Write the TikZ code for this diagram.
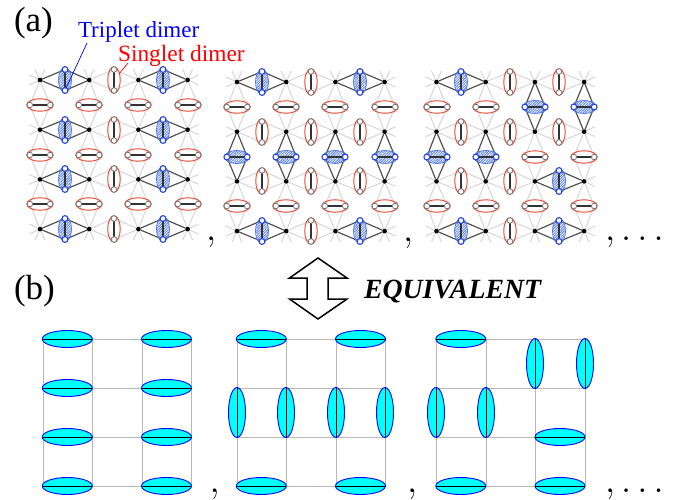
\documentclass[tikz,border=0pt]{standalone}
\usepackage{fix-cm}
\usepackage{fontspec}
\setmainfont{Liberation Serif}
\usetikzlibrary{shapes.geometric,patterns.meta}
\pgfdeclarelayer{greylayer}
\pgfdeclarelayer{linklayer}
\pgfdeclarelayer{elllayer}
\pgfsetlayers{greylayer,linklayer,elllayer,main}
\definecolor{latgrey}{gray}{0.84}
\definecolor{redell}{RGB}{232,82,60}
\definecolor{bluell}{RGB}{40,70,220}
\definecolor{hatchblue}{RGB}{80,120,240}
\definecolor{cyanfill}{RGB}{0,255,255}
\tikzset{
  dotnode/.style={circle,fill=black,inner sep=0pt,minimum size=4.6pt,outer sep=0pt},
  siteS/.style={circle,draw=black!55,fill=white,line width=.8pt,inner sep=0pt,minimum size=5.6pt,outer sep=0pt},
  siteT/.style={circle,draw=bluell,fill=white,line width=1.1pt,inner sep=0pt,minimum size=5.8pt,outer sep=0pt},
  latline/.style={draw=latgrey,line width=1pt},
  linkS/.style={latline},
  linkT/.style={draw=black!68,line width=1.2pt},
  bond/.style={draw=black!80,line width=1.6pt},
  ellbase/.style={ellipse,inner sep=0pt,outer sep=0pt},
  ellVS/.style={ellbase,draw=redell,line width=1pt,minimum width=12.5pt,minimum height=26.5pt},
  ellHS/.style={ellbase,draw=redell,line width=1pt,minimum width=26.5pt,minimum height=12.5pt},
  hatch/.style={pattern={Lines[angle=45,distance=1.8pt,line width=.8pt]},pattern color=hatchblue},
  ellVT/.style={ellbase,hatch,draw=hatchblue,line width=.8pt,minimum width=13pt,minimum height=25pt},
  ellHT/.style={ellbase,hatch,draw=hatchblue,line width=.8pt,minimum width=25pt,minimum height=13pt},
  bgrid/.style={draw=black!28,line width=1pt},
  bline/.style={draw=black,line width=1pt},
  bellH/.style={ellbase,draw=blue,fill=cyanfill,line width=.9pt,minimum width=50pt,minimum height=17pt},
  bellV/.style={ellbase,draw=blue,fill=cyanfill,line width=.9pt,minimum width=17pt,minimum height=50pt},
  label/.style={anchor=base west,inner sep=0pt,outer sep=0pt},
  biglabel/.style={label,font=\fontsize{35}{35}\selectfont},
  punct/.style={label,font=\fontsize{37}{37}\selectfont},
}
% name, x0, y0, vertical dimers i/j/type, horizontal dimers i/j/type
\newcommand{\panelA}[5]{%
  \foreach \i in {0,1,2,3} \foreach \j in {0,1,2,3} {
    \node[dotnode] (#1-d-\i-\j) at ({#2+49.2*\i},{#3+49.7*\j}) {};
  }
  \begin{pgfonlayer}{greylayer}
  \foreach \j in {0,1,2,3} {
    \draw[latline] (#1-d-0-\j.center) -- ++(-11,-5);
    \draw[latline] (#1-d-0-\j.center) -- ++(-11,5);
    \draw[latline] (#1-d-3-\j.center) -- ++(11,-5);
    \draw[latline] (#1-d-3-\j.center) -- ++(11,5);
  }
  \foreach \i in {0,1,2,3} {
    \draw[latline] (#1-d-\i-0.center) -- ++(-5,-11);
    \draw[latline] (#1-d-\i-0.center) -- ++(5,-11);
    \draw[latline] (#1-d-\i-3.center) -- ++(-5,11);
    \draw[latline] (#1-d-\i-3.center) -- ++(5,11);
  }
  \end{pgfonlayer}
  \foreach \i/\j/\k in {#4} {
    \pgfmathtruncatemacro{\ii}{\i+1}
    \path ({round(#2+49.2*(\i+.5))},{round(#3+49.7*\j)}) coordinate (#1-vc-\i-\j);
    \node[site\k] (#1-v-\i-\j-a) at ([yshift=10.5pt]#1-vc-\i-\j) {};
    \node[site\k] (#1-v-\i-\j-b) at ([yshift=-10.5pt]#1-vc-\i-\j) {};
    \begin{pgfonlayer}{elllayer}
      \node[ellV\k] (#1-ve-\i-\j) at (#1-vc-\i-\j) {};
      \draw[bond] (#1-v-\i-\j-a) -- (#1-v-\i-\j-b);
    \end{pgfonlayer}
    \begin{pgfonlayer}{linklayer}
      \draw[link\k] (#1-d-\i-\j) -- (#1-v-\i-\j-a);
      \draw[link\k] (#1-d-\i-\j) -- (#1-v-\i-\j-b);
      \draw[link\k] (#1-d-\ii-\j) -- (#1-v-\i-\j-a);
      \draw[link\k] (#1-d-\ii-\j) -- (#1-v-\i-\j-b);
    \end{pgfonlayer}
  }
  \foreach \i/\j/\k in {#5} {
    \pgfmathtruncatemacro{\jj}{\j+1}
    \path ({round(#2+49.2*\i)},{round(#3+49.7*(\j+.5))}) coordinate (#1-hc-\i-\j);
    \node[site\k] (#1-h-\i-\j-a) at ([xshift=-10.2pt]#1-hc-\i-\j) {};
    \node[site\k] (#1-h-\i-\j-b) at ([xshift=10.2pt]#1-hc-\i-\j) {};
    \begin{pgfonlayer}{elllayer}
      \node[ellH\k] (#1-he-\i-\j) at (#1-hc-\i-\j) {};
      \draw[bond] (#1-h-\i-\j-a) -- (#1-h-\i-\j-b);
    \end{pgfonlayer}
    \begin{pgfonlayer}{linklayer}
      \draw[link\k] (#1-d-\i-\j) -- (#1-h-\i-\j-a);
      \draw[link\k] (#1-d-\i-\j) -- (#1-h-\i-\j-b);
      \draw[link\k] (#1-d-\i-\jj) -- (#1-h-\i-\j-a);
      \draw[link\k] (#1-d-\i-\jj) -- (#1-h-\i-\j-b);
    \end{pgfonlayer}
  }
}
% name, x0, y0, horizontal ellipses i/j, vertical ellipses i/j
\newcommand{\panelB}[5]{%
  \foreach \i in {0,1,2,3} \foreach \j in {0,1,2,3} {
    \coordinate (#1-\i-\j) at ({round(#2+49.6*\i)},{round(#3+49*\j)});
  }
  \begin{pgfonlayer}{greylayer}
  \foreach \i in {0,1,2,3} { \draw[bgrid] (#1-\i-0) -- (#1-\i-3); }
  \foreach \j in {0,1,2,3} { \draw[bgrid] (#1-0-\j) -- (#1-3-\j); }
  \end{pgfonlayer}
  \foreach \i/\j in {#4} {
    \pgfmathtruncatemacro{\ii}{\i+1}
    \node[bellH] at ({#2+49.6*(\i+.5)},{round(#3+49*\j)}) {};
    \draw[bline] (#1-\i-\j) -- (#1-\ii-\j);
  }
  \foreach \i/\j in {#5} {
    \pgfmathtruncatemacro{\jj}{\j+1}
    \node[bellV] at ({round(#2+49.6*\i)},{#3+49*(\j+.5)}) {};
    \draw[bline] (#1-\i-\j) -- (#1-\i-\jj);
  }
}
\begin{document}
\begin{tikzpicture}[x=1pt,y=-1pt]
\useasboundingbox (0,0) rectangle (683,500);
% panel (a)
\panelA{aa}{40}{80}
 {0/0/T,1/0/S,2/0/T,0/1/T,1/1/S,2/1/T,0/2/T,1/2/S,2/2/T,0/3/T,1/3/S,2/3/T}
 {0/0/S,1/0/S,2/0/S,3/0/S,0/1/S,1/1/S,2/1/S,3/1/S,0/2/S,1/2/S,2/2/S,3/2/S}
\panelA{ab}{237}{82}
 {0/0/T,1/0/S,2/0/T,0/1/S,1/1/S,2/1/S,0/2/S,1/2/S,2/2/S,0/3/T,1/3/S,2/3/T}
 {0/0/S,1/0/S,2/0/S,3/0/S,0/1/T,1/1/T,2/1/T,3/1/T,0/2/S,1/2/S,2/2/S,3/2/S}
\panelA{ac}{436.5}{82}
 {0/0/T,1/0/S,2/0/S,0/1/S,1/1/S,2/1/S,0/2/S,1/2/S,2/2/T,0/3/T,1/3/S,2/3/T}
 {0/0/S,1/0/S,2/0/T,3/0/T,0/1/T,1/1/T,2/1/S,3/1/S,0/2/S,1/2/S,2/2/S,3/2/S}
% labels
\node[biglabel] (labela) at (14,32) {(a)};
\node[biglabel] (labelb) at (14,299) {(b)};
\node[label,text=blue,font=\fontsize{23}{23}\selectfont] (trip) at (78,38) {Triplet dimer};
\node[label,text=red,font=\fontsize{23.4}{23.4}\selectfont] (sing) at (118,62) {Singlet dimer};
\coordinate (tripend) at (87,43);
\coordinate (singend) at (128,63);
\draw[blue,line width=.7pt] (tripend) -- (aa-v-0-0-b);
\draw[red,line width=.7pt] (singend) -- (aa-ve-1-0);
% punctuation
\node[punct] (c1) at (206,240) {$,$};
\node[punct] (c2) at (403,241) {$,$};
\node[punct] (c3) at (605,240) {$,\ldots$};
\node[punct] (c4) at (209.5,492) {$,$};
\node[punct] (c5) at (407,492) {$,$};
\node[punct] (c6) at (605,492) {$,\ldots$};
% equivalence arrow
\draw[black,line width=1.5pt,miter limit=10,fill=white]
  (318,258) -- (347,278) -- (328,278) -- (328,299) -- (347,299) -- (318,319)
  -- (289.5,299) -- (307,299) -- (307,278) -- (289.5,278) -- cycle;
\node[label,font=\fontsize{27.8}{27.8}\selectfont\bfseries\itshape] (equiv) at (364,298) {EQUIVALENT};
% panel (b)
\panelB{ba}{42.5}{339}
 {0/0,2/0,0/1,2/1,0/2,2/2,0/3,2/3}{}
\panelB{bb}{236.5}{339}
 {0/0,2/0,0/3,2/3}{0/1,1/1,2/1,3/1}
\panelB{bc}{436}{339}
 {0/0,0/3,2/2,2/3}{2/0,3/0,0/1,1/1}
\end{tikzpicture}
\end{document}
